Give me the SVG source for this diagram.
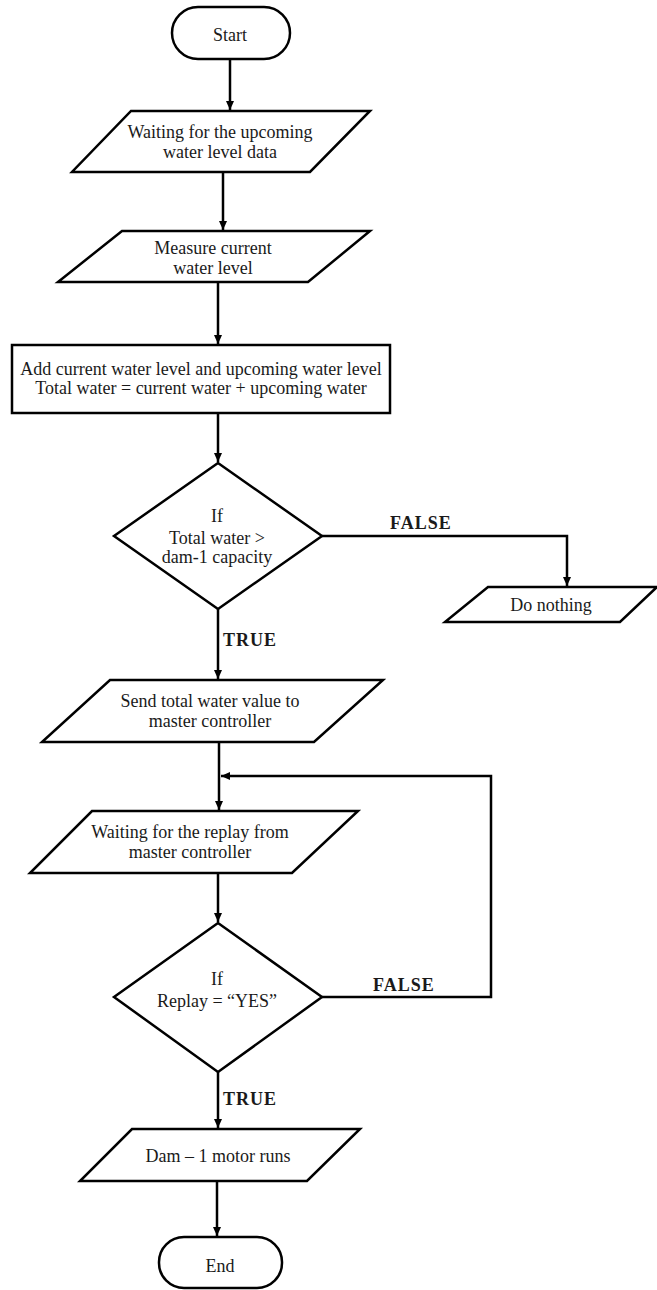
<svg xmlns="http://www.w3.org/2000/svg" width="657" height="1290" viewBox="0 0 657 1290">
<style>
.shape{fill:#fff;stroke:#000;stroke-width:2.5;stroke-linejoin:miter}
.t{font-family:"Liberation Serif","Times New Roman",serif;font-size:18px;fill:#1a1a1a;text-anchor:middle}
.lbl{font-family:"Liberation Serif","Times New Roman",serif;font-size:18px;font-weight:bold;fill:#1a1a1a;letter-spacing:1px}
.c{fill:none;stroke:#000;stroke-width:2.5}
</style>
<defs>
<marker id="ah" markerWidth="9" markerHeight="8" refX="9" refY="4" orient="auto" markerUnits="userSpaceOnUse">
<path d="M0,0 L9,4 L0,8 Z" fill="#000"/>
</marker>
</defs>
<rect width="657" height="1290" fill="#fff"/>
<g id="connectors">
<line class="c" x1="230" y1="59" x2="230" y2="110" marker-end="url(#ah)"/>
<line class="c" x1="223" y1="172" x2="223" y2="230" marker-end="url(#ah)"/>
<line class="c" x1="218" y1="282" x2="218" y2="344" marker-end="url(#ah)"/>
<line class="c" x1="218" y1="413" x2="218" y2="462" marker-end="url(#ah)"/>
<polyline class="c" points="322,536 567,536 567,586" marker-end="url(#ah)"/>
<line class="c" x1="218" y1="609" x2="218" y2="679" marker-end="url(#ah)"/>
<line class="c" x1="219" y1="742" x2="219" y2="810" marker-end="url(#ah)"/>
<polyline class="c" points="322,997 491,997 491,776 221,776" marker-end="url(#ah)"/>
<line class="c" x1="218" y1="873" x2="218" y2="922" marker-end="url(#ah)"/>
<line class="c" x1="218" y1="1072" x2="218" y2="1128" marker-end="url(#ah)"/>
<line class="c" x1="217" y1="1181" x2="217" y2="1236" marker-end="url(#ah)"/>
<text class="lbl" x="390" y="529">FALSE</text>
<text class="lbl" x="223" y="646">TRUE</text>
<text class="lbl" x="373" y="991">FALSE</text>
<text class="lbl" x="223" y="1105">TRUE</text>
</g>
<g id="start">
<rect class="shape" x="172" y="7" width="118" height="52" rx="26" ry="26"/>
<text class="t" x="230" y="41">Start</text>
</g>
<g id="wait-upcoming">
<polygon class="shape" points="131,111 370,111 310,172 72,172"/>
<text class="t" x="220" y="138">Waiting for the upcoming</text>
<text class="t" x="220" y="158">water level data</text>
</g>
<g id="measure">
<polygon class="shape" points="122,231 370,231 308,282 58,282"/>
<text class="t" x="213" y="254">Measure current</text>
<text class="t" x="213" y="274">water level</text>
</g>
<g id="add">
<rect class="shape" x="12" y="345" width="378" height="68" stroke-width="3"/>
<text class="t" x="201" y="375">Add current water level and upcoming water level</text>
<text class="t" x="201" y="394">Total water = current water + upcoming water</text>
</g>
<g id="decision-capacity">
<polygon class="shape" points="218,463 322,536 218,609 114,536"/>
<text class="t" x="217" y="522">If</text>
<text class="t" x="217" y="544">Total water &gt;</text>
<text class="t" x="217" y="563">dam-1 capacity</text>
</g>
<g id="do-nothing">
<polygon class="shape" points="488,587 657,587 620,622 445,622"/>
<text class="t" x="551" y="611">Do nothing</text>
</g>
<g id="send">
<polygon class="shape" points="110,680 383,680 314,742 42,742"/>
<text class="t" x="210" y="707">Send total water value to</text>
<text class="t" x="210" y="727">master controller</text>
</g>
<g id="wait-replay">
<polygon class="shape" points="92,811 358,811 292,873 30,873"/>
<text class="t" x="190" y="838">Waiting for the replay from</text>
<text class="t" x="190" y="858">master controller</text>
</g>
<g id="decision-replay">
<polygon class="shape" points="218,923 322,997 218,1072 114,997"/>
<text class="t" x="217" y="985">If</text>
<text class="t" x="217" y="1007">Replay = “YES”</text>
</g>
<g id="motor">
<polygon class="shape" points="132,1129 360,1129 307,1181 80,1181"/>
<text class="t" x="218" y="1162">Dam – 1 motor runs</text>
</g>
<g id="end">
<rect class="shape" x="159" y="1237" width="123" height="51" rx="25" ry="25"/>
<text class="t" x="220" y="1272">End</text>
</g>
</svg>
